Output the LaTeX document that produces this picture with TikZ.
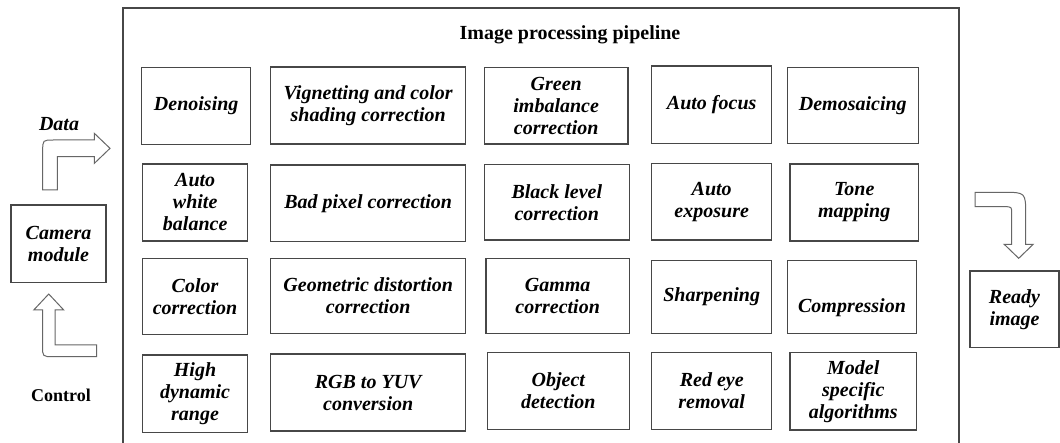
\documentclass[tikz,border=0pt]{standalone}
\usepackage{fontspec}
\setmainfont{Liberation Serif}
\begin{document}
\begin{tikzpicture}[x=1pt,y=-1pt,
  box/.style={draw=black!72,line width=1.3pt,inner sep=0pt,align=center,
    font=\fontsize{20}{22}\selectfont\bfseries\itshape},
  boxtext/.style={inner sep=0pt,align=center,font=\fontsize{20}{22}\selectfont\bfseries\itshape},
  blockarrow/.style={draw=black!60,line width=1pt,fill=white,line join=miter},
  frame/.style={draw=black!72,line width=1.3pt}]
\useasboundingbox (0,0) rectangle (1060,443);
\fill[white] (0,0) rectangle (1060,443);
% main frame
\draw[frame] (123,445) -- (123,8) -- (959,8) -- (959,445);
\node[anchor=base,font=\fontsize{20}{22}\selectfont\bfseries] (title) at (570,40) {Image processing pipeline};
% column 1
\node[box,minimum width=109pt,minimum height=77pt] (den) at (196.2,105.7) {Denoising};
\node[box,minimum width=105pt,minimum height=77pt] (awb) at (195.2,202.5) {Auto\\white\\balance};
\node[box,minimum width=105pt,minimum height=76pt] (cc) at (195,296.2) {Color\\correction};
\node[box,minimum width=105pt,minimum height=77.7pt] (hdr) at (195,393.8) {High\\dynamic\\range};
% column 2
\node[box,minimum width=195pt,minimum height=77pt] (vig) at (368.2,105.5) {Vignetting and color\\shading correction};
\node[box,minimum width=195pt,minimum height=76.7pt] (bad) at (368.2,203.3) {Bad pixel correction};
\node[box,minimum width=195pt,minimum height=75pt] (geo) at (368.2,295.8) {Geometric distortion\\correction};
\node[box,minimum width=195pt,minimum height=77pt] (rgb) at (368.2,392.5) {RGB to YUV\\conversion};
% column 3
\node[box,minimum width=143.7pt,minimum height=76.7pt] (green) at (556.2,105.7) {Green\\imbalance\\correction};
\node[box,minimum width=145pt,minimum height=75.7pt] (black) at (556.8,202.2) {Black level\\correction};
\node[box,minimum width=143.3pt,minimum height=75pt] (gamma) at (557.7,295.8) {Gamma\\correction};
\node[box,minimum width=142pt,minimum height=77pt] (obj) at (558.3,390.8) {Object\\detection};
% column 4
\node[box,minimum width=120pt,minimum height=77.3pt] (af) at (711.7,104.7) {Auto focus};
\node[box,minimum width=120pt,minimum height=76.7pt] (ae) at (711.7,201.7) {Auto\\exposure};
\node[box,minimum width=120pt,minimum height=72.7pt] (sharp) at (711.7,297) {Sharpening};
\node[box,minimum width=120pt,minimum height=77pt] (red) at (711.7,390.8) {Red eye\\removal};
% column 5
\node[box,minimum width=131pt,minimum height=76pt] (demo) at (852.8,105.3) {Demosaicing};
\node[box,minimum width=128.3pt,minimum height=77pt] (tone) at (854.2,202.5) {Tone\\mapping};
\node[box,minimum width=129.4pt,minimum height=72.7pt] (comp) at (852,297) {};
\node[boxtext] (comptext) at ([yshift=-11pt]comp.center) {Compression};
\node[box,minimum width=126.7pt,minimum height=77.3pt] (model) at (853.3,391.3) {Model\\specific\\algorithms};
% outside
\node[box,minimum width=95pt,minimum height=77.7pt] (cam) at (58.5,243.8) {Camera\\module};
\node[box,minimum width=89pt,minimum height=76.3pt] (ready) at (1014.5,309.2) {Ready\\image};
\node[anchor=base,font=\fontsize{20}{22}\selectfont\bfseries\itshape] (data) at (59,131) {Data};
\node[anchor=base,font=\fontsize{18}{20}\selectfont\bfseries] (control) at (61,401) {Control};
% data arrow
\draw[blockarrow] (42.7,190) -- (42.7,151) .. controls (42.7,140) .. (53.7,140) -- (94.3,140)
  -- (94.3,133.3) -- (110,148.35) -- (94.3,163.4) -- (94.3,156.7) -- (57.3,156.7) -- (57.3,190) -- cycle;
% control arrow
\draw[blockarrow] (48.75,294) -- (63.75,310) -- (55,310) -- (55,345) -- (96.7,345) -- (96.7,356.7)
  -- (53.5,356.7) .. controls (42.5,356.7) .. (42.5,345.7) -- (42.5,310) -- (33.75,310) -- cycle;
% ready arrow
\draw[blockarrow] (975,192.3) -- (1003,192.3) .. controls (1025.7,192.3) .. (1025.7,215) -- (1025.7,244.3)
  -- (1033.2,244.3) -- (1018.7,258.3) -- (1004.2,244.3) -- (1011.7,244.3) -- (1011.7,214)
  .. controls (1011.7,206.7) .. (1004.4,206.7) -- (975,206.7) -- cycle;
\end{tikzpicture}
\end{document}
